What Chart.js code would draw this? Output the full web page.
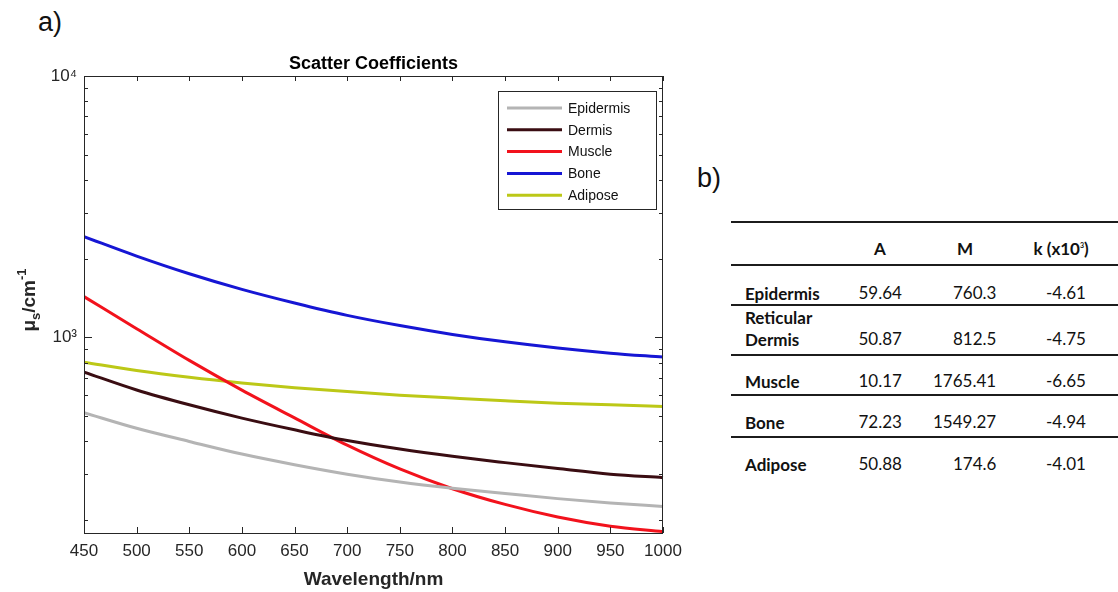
<!DOCTYPE html>
<html>
<head>
<meta charset="utf-8">
<script src="https://cdn.jsdelivr.net/npm/chart.js@4.4.0/dist/chart.umd.min.js"></script>
<style>
  html, body { margin: 0; padding: 0; background: #fff; }
  body { width: 1118px; height: 592px; position: relative; overflow: hidden; font-family: "Liberation Sans", Arial, sans-serif; color: #1a1a1a; }
  #plot { position: absolute; left: 0; top: 0; }
  .panel { position: absolute; font-size: 27px; line-height: 27px; font-family: "Liberation Sans", Arial, sans-serif; color: #111; }
  #params { position: absolute; left: 731px; top: 0; width: 387px; height: 592px; font-family: Lato, "Open Sans", sans-serif; font-size: 17px; color: #111; }
  .rule { position: absolute; left: 0; width: 387px; height: 2px; background: #1c1c1c; }
  .cell { position: absolute; line-height: 20px; white-space: nowrap; }
  .cell.lbl { font-weight: bold; white-space: normal; width: 100px; line-height: 22px; }
  .cell.head { font-weight: bold; }
  .cell sup { font-size: 7px; vertical-align: 7px; line-height: 0; }
</style>
</head>
<body>
<div class="panel" style="left:38px; top:9px;">a)</div>
<div class="panel" style="left:697px; top:165px;">b)</div>
<canvas id="plot" width="700" height="592"></canvas>
<div id="params"></div>

<script>
// Wavelength grid (nm) and scattering coefficient per tissue (cm^-1)
const wavelengths = [450, 500, 550, 600, 650, 700, 750, 800, 850, 900, 950, 1000];
const epidermis   = [514, 448, 399, 357, 325, 299, 279, 264, 252, 241, 232, 225];
const dermis      = [735, 628, 551, 490, 442, 402, 373, 350, 331, 314, 299, 290];
const muscle      = [1430, 1078, 815, 627, 491, 386, 313, 263, 229, 205, 189, 180];
const bone        = [2427, 2045, 1750, 1525, 1352, 1212, 1108, 1025, 960, 909, 869, 839];
const adipose     = [802, 745, 702, 668, 641, 619, 600, 585, 571, 559, 551, 543];

const seriesNames  = ['Epidermis', 'Dermis', 'Muscle', 'Bone', 'Adipose'];
const seriesValues = [epidermis, dermis, muscle, bone, adipose];
const seriesColors = ['#b4b4b4', '#3a0d12', '#f2121c', '#1616d4', '#bcc817'];

// Log-axis tick values and the ones that carry a label
const yTickValues     = [200, 300, 400, 500, 600, 700, 800, 900, 1000, 2000, 3000, 4000, 5000, 6000, 7000, 8000, 9000, 10000];
const yLabelledValues = [1000, 10000];
const yTickLabels     = ['10³', '10⁴'];

// Fit parameters table
const tableHeaders = ['A', 'M', 'k (x10<sup>3</sup>)'];
const tissueRows   = ['Epidermis', 'Reticular Dermis', 'Muscle', 'Bone', 'Adipose'];
const paramA       = ['59.64', '50.87', '10.17', '72.23', '50.88'];
const paramM       = ['760.3', '812.5', '1765.41', '1549.27', '174.6'];
const paramK       = ['-4.61', '-4.75', '-6.65', '-4.94', '-4.01'];

const AXIS_INK = '#262626';
const FONT = '"Liberation Sans", Arial, sans-serif';

// Box, inward ticks, titles and the in-plot legend
const framePlugin = {
  id: 'frame',
  afterDatasetsDraw(chart) {
    const { ctx, chartArea: a, scales: { x, y } } = chart;
    ctx.save();
    ctx.strokeStyle = AXIS_INK;
    ctx.lineWidth = 1;
    const seg = (x1, y1, x2, y2) => { ctx.beginPath(); ctx.moveTo(x1, y1); ctx.lineTo(x2, y2); ctx.stroke(); };

    ctx.strokeRect(a.left + 0.5, a.top + 0.5, a.right - a.left - 1, a.bottom - a.top);

    x.ticks.forEach(t => {
      const px = Math.round(x.getPixelForValue(t.value)) + 0.5;
      seg(px, a.bottom, px, a.bottom - 6);
      seg(px, a.top, px, a.top + 5);
    });
    yTickValues.forEach(v => {
      const py = Math.round(y.getPixelForValue(v)) + 0.5;
      const len = yLabelledValues.includes(v) ? 8 : 4;
      seg(a.left, py, a.left + len, py);
      seg(a.right, py, a.right - len, py);
    });

    // Title
    ctx.fillStyle = '#000';
    ctx.textAlign = 'center';
    ctx.textBaseline = 'alphabetic';
    ctx.font = 'bold 18px ' + FONT;
    ctx.fillText('Scatter Coefficients', (a.left + a.right) / 2, 69);

    // X axis title
    ctx.font = 'bold 19px ' + FONT;
    ctx.fillStyle = AXIS_INK;
    ctx.fillText('Wavelength/nm', (a.left + a.right) / 2, 585);

    // Y axis title: mu with subscript s, over cm with superscript -1
    ctx.save();
    ctx.translate(35, 300);
    ctx.rotate(-Math.PI / 2);
    ctx.textAlign = 'left';
    const parts = [
      { t: '\u03bc', f: 'bold 19px ' + FONT, dy: 0 },
      { t: 's', f: 'bold 13px ' + FONT, dy: 5 },
      { t: '/cm', f: 'bold 19px ' + FONT, dy: 0 },
      { t: '-1', f: 'bold 13px ' + FONT, dy: -9 }
    ];
    let total = 0;
    parts.forEach(p => { ctx.font = p.f; p.w = ctx.measureText(p.t).width; total += p.w; });
    let cx = -total / 2;
    parts.forEach(p => { ctx.font = p.f; ctx.fillText(p.t, cx, p.dy); cx += p.w; });
    ctx.restore();

    // Legend box in the upper right of the plot
    const lx = a.right - 165, ly = a.top + 15, lw = 158, lh = 118;
    ctx.fillStyle = '#fff';
    ctx.fillRect(lx, ly, lw, lh);
    ctx.strokeStyle = AXIS_INK;
    ctx.lineWidth = 1;
    ctx.strokeRect(lx + 0.5, ly + 0.5, lw, lh);
    ctx.font = '14px ' + FONT;
    ctx.textAlign = 'left';
    ctx.textBaseline = 'middle';
    chart.data.datasets.forEach((ds, i) => {
      const ry = ly + 17 + i * 21.8;
      ctx.strokeStyle = ds.borderColor;
      ctx.lineWidth = 3;
      seg(lx + 9, ry, lx + 64, ry);
      ctx.fillStyle = '#111';
      ctx.fillText(ds.label, lx + 70, ry + 1);
    });
    ctx.restore();
  }
};

new Chart(document.getElementById('plot'), {
  type: 'line',
  data: {
    datasets: seriesNames.map((name, i) => ({
      label: name,
      data: wavelengths.map((w, j) => ({ x: w, y: seriesValues[i][j] })),
      borderColor: seriesColors[i],
      borderWidth: 3,
      pointRadius: 0,
      fill: false,
      cubicInterpolationMode: 'monotone',
      clip: { left: 0, right: 1, top: 3, bottom: 3 }
    }))
  },
  options: {
    responsive: false,
    animation: false,
    events: [],
    layout: { padding: { left: 0, top: 76, right: 37, bottom: 0 } },
    plugins: { legend: { display: false }, title: { display: false }, tooltip: { enabled: false } },
    scales: {
      x: {
        type: 'linear',
        min: 450,
        max: 1000,
        grid: { display: false, drawTicks: false },
        border: { display: false },
        ticks: {
          stepSize: 50, autoSkip: false, maxRotation: 0, padding: 8,
          color: AXIS_INK, font: { family: FONT, size: 17 },
          callback(v) { return String(v); }
        },
        afterFit(s) { s.height = 59; }
      },
      y: {
        type: 'logarithmic',
        min: 178,
        max: 10000,
        grid: { display: false, drawTicks: false },
        border: { display: false },
        afterBuildTicks(s) { s.ticks = yTickValues.map(v => ({ value: v })); },
        ticks: {
          autoSkip: false,
          padding: 7,
          color: AXIS_INK,
          font: { family: FONT, size: 17 },
          callback(v) {
            const k = yLabelledValues.indexOf(Math.round(v));
            return k >= 0 ? yTickLabels[k] : '';
          }
        },
        afterFit(s) { s.width = 84; }
      }
    }
  },
  plugins: [framePlugin]
});

// Parameter table
(function buildTable() {
  const host = document.getElementById('params');
  // rule positions and text mid-lines for header + each tissue row
  const rules = [221, 264, 304, 354, 394, 436];
  const mids  = [250, 294, 340, 381.5, 422.5, 465];
  rules.forEach(top => {
    const r = document.createElement('div');
    r.className = 'rule';
    r.style.top = top + 'px';
    host.appendChild(r);
  });
  const cols = [
    { center: 149 },
    { right: 265, headCenter: 234 },
    { right: 355, headCenter: 330 }
  ];
  const put = (html, cls, top, col, isHead) => {
    const c = document.createElement('div');
    c.className = 'cell ' + cls;
    c.innerHTML = html;
    c.style.top = top + 'px';
    host.appendChild(c);
    const w = c.offsetWidth;
    let left;
    if (col.center !== undefined) left = col.center - w / 2;
    else if (isHead) left = col.headCenter - w / 2;
    else left = col.right - w;
    c.style.left = left + 'px';
  };
  tableHeaders.forEach((h, j) => put(h, 'head', mids[0] - 10.8, cols[j], true));
  tissueRows.forEach((name, i) => {
    const mid = mids[i + 1];
    const lbl = document.createElement('div');
    lbl.className = 'cell lbl';
    lbl.textContent = name;
    lbl.style.left = '14px';
    host.appendChild(lbl);
    lbl.style.top = (mid + 11.4 - lbl.offsetHeight) + 'px';
    [paramA[i], paramM[i], paramK[i]].forEach((v, j) => put(v, '', mid - 10.8, cols[j], false));
  });
})();
</script>
</body>
</html>
